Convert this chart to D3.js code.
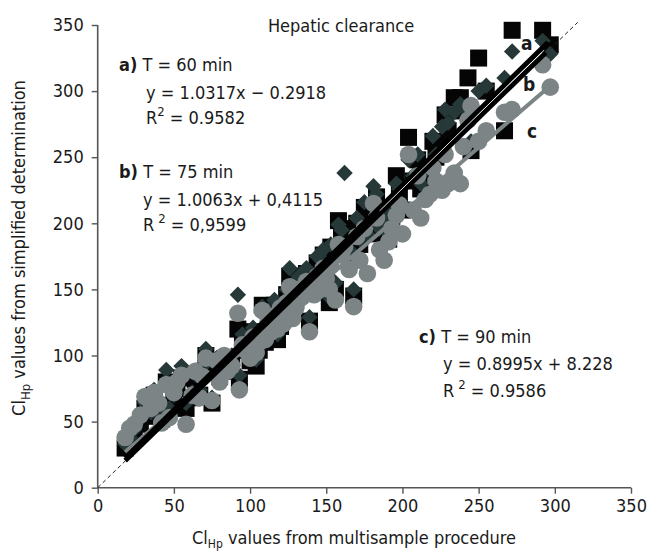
<!DOCTYPE html>
<html>
<head>
<meta charset="utf-8">
<script src="https://cdn.jsdelivr.net/npm/d3@7"></script>
<style>
  html, body { margin: 0; padding: 0; background: #fff; }
  svg text { font-family: "Liberation Sans Narrow", "Arial Narrow", "DejaVu Sans Condensed", sans-serif; font-stretch: condensed; fill: #1a1a1a; }
</style>
</head>
<body>
<svg id="chart" width="647" height="553"></svg>
<script>
// ---- data ----
const xTicks = [0, 50, 100, 150, 200, 250, 300, 350];
const yTicks = [0, 50, 100, 150, 200, 250, 300, 350];

// multisample clearance (shared x for each patient)
const clMulti = [18, 21, 31, 35, 40, 42, 45, 47, 55, 58, 62, 67, 71, 75, 80, 85, 88,
  92, 93, 97, 100, 104, 108, 110, 114, 118, 122, 126, 130, 134, 139, 142,
  146, 150, 153, 156, 158, 162, 165, 168, 172, 177, 181, 185, 188, 191, 196,
  200, 204, 207, 212, 218, 222, 226, 230, 234, 238, 243, 245, 250, 267, 272, 292, 297,
  24, 28, 37, 50, 52, 64, 69, 78, 83, 95, 102, 106, 112, 116, 120, 124, 128, 132,
  137, 144, 148, 152, 160, 170, 175, 183, 193, 198, 210, 215, 220, 228, 240, 255];
// a) T = 60 min (squares)
const clT60 = [30, 35, 60, 54, 62, 52, 80, 58, 83, 60, 68, 70, 100, 64, 84, 92, 98,
  120, 82, 104, 96, 92, 138, 110, 120, 112, 128, 160, 142, 150, 126, 155,
  148, 165, 182, 150, 202, 196, 176, 145, 184, 197, 205, 192, 199, 188, 236,
  210, 265, 232, 226, 240, 250, 260, 270, 295, 295, 310, 255, 325, 270, 346, 346, 335,
  40, 48, 70, 66, 75, 82, 88, 95, 88, 112, 118, 104, 130, 138, 122, 146, 150, 158,
  162, 170, 176, 140, 190, 200, 212, 220, 205, 222, 248, 236, 262, 282, 285, 300];
// b) T = 75 min (diamonds)
const clT75 = [33, 38, 64, 57, 66, 55, 89, 60, 92, 64, 72, 74, 105, 68, 88, 96, 100,
  146, 85, 108, 100, 97, 137, 114, 124, 116, 133, 166, 147, 154, 129, 160,
  152, 170, 184, 155, 199, 238, 180, 150, 188, 192, 228, 196, 205, 192, 230,
  214, 248, 236, 230, 244, 252, 273, 276, 284, 290, 280, 262, 300, 310, 330, 338, 328,
  44, 52, 74, 70, 78, 86, 92, 98, 92, 116, 121, 108, 134, 142, 126, 150, 154, 160,
  166, 175, 180, 144, 195, 204, 216, 222, 210, 226, 252, 240, 266, 286, 288, 304];
// c) T = 90 min (circles)
const clT90 = [38, 45, 69, 60, 64, 49, 78, 53, 85, 48, 70, 68, 98, 66, 80, 88, 92,
  132, 74, 104, 98, 102, 134, 112, 118, 120, 124, 152, 136, 144, 118, 146,
  150, 158, 168, 142, 184, 182, 165, 137, 172, 162, 215, 180, 172, 186, 206,
  192, 252, 210, 204, 222, 232, 225, 230, 238, 230, 278, 289, 262, 284, 286, 320, 303,
  48, 55, 72, 72, 80, 88, 84, 96, 100, 108, 114, 110, 126, 130, 136, 140, 128, 150,
  156, 160, 166, 150, 176, 190, 196, 204, 196, 214, 236, 218, 242, 252, 258, 270];

// fitted lines as drawn: [x1, y1, x2, y2]
const fitA = [18, 22.5, 295.6, 337];
const fitB = [18, 20.5, 294, 329];
const fitC = [18, 27, 298, 305];
const refLine = [0, 0, 315, 352];

const annA = ["a)", "T = 60 min", "y = 1.0317x \u2212 0.2918", "0.9582"];
const annB = ["b)", "T = 75 min", "y = 1.0063x + 0,4115", "0,9599"];
const annC = ["c)", "T = 90 min", "y = 0.8995x + 8.228", "0.9586"];

// ---- drawing ----
const svg = d3.select("#chart");
const x = d3.scaleLinear().domain([0, 350]).range([97.7, 631]);
const y = d3.scaleLinear().domain([0, 350]).range([487.7, 25]);

const axisColor = "#555";
const FS = 18;

// axes
const gx = svg.append("g").attr("transform", `translate(0,${y(0)})`)
  .call(d3.axisBottom(x).tickValues(xTicks).tickSize(6).tickPadding(6).tickFormat(d3.format("d")));
const gy = svg.append("g").attr("transform", `translate(${x(0)},0)`)
  .call(d3.axisLeft(y).tickValues(yTicks).tickSize(6).tickPadding(8).tickFormat(d3.format("d")));
[gx, gy].forEach(g => {
  g.select(".domain").attr("stroke", axisColor).attr("stroke-width", 1.6);
  g.selectAll(".tick line").attr("stroke", axisColor).attr("stroke-width", 1.4);
  g.selectAll(".tick text").attr("font-size", FS).attr("fill", "#1a1a1a")
    .style("font-family", '"Liberation Sans Narrow", "Arial Narrow", "DejaVu Sans Condensed", sans-serif');
});
gx.select(".domain").attr("d", `M${x(0)},0H${x(350)}`);
gy.select(".domain").attr("d", `M0,${y(0)}V${y(350)}`);

// markers
const pts = clMulti.map((v, i) => ({ x: v, a: clT60[i], b: clT75[i], c: clT90[i] }));
const sq = 17;
svg.append("g").selectAll("rect").data(pts).join("rect")
  .attr("x", d => x(d.x) - sq / 2).attr("y", d => y(d.a) - sq / 2)
  .attr("width", sq).attr("height", sq).attr("fill", "#050505");
const dsz = 8.2;
svg.append("g").selectAll("path").data(pts).join("path")
  .attr("d", d => `M${x(d.x)},${y(d.b) - dsz}L${x(d.x) + dsz},${y(d.b)}L${x(d.x)},${y(d.b) + dsz}L${x(d.x) - dsz},${y(d.b)}Z`)
  .attr("fill", "#263838");
svg.append("g").selectAll("circle").data(pts).join("circle")
  .attr("cx", d => x(d.x)).attr("cy", d => y(d.c)).attr("r", 8.8)
  .attr("fill", "#7c8486");

// dashed reference line
svg.append("line")
  .attr("x1", x(refLine[0])).attr("y1", y(refLine[1]))
  .attr("x2", x(refLine[2])).attr("y2", y(refLine[3]))
  .attr("stroke", "#222").attr("stroke-width", 1).attr("stroke-dasharray", "4,3");

// fit lines
function fit(f, color, w) {
  svg.append("line").attr("x1", x(f[0])).attr("y1", y(f[1])).attr("x2", x(f[2])).attr("y2", y(f[3]))
    .attr("stroke", color).attr("stroke-width", w);
}
fit(fitC, "#7c8486", 4);
fit(fitB, "#000", 5);
fit(fitA, "#000", 5);
// thin white separation between a and b where they diverge
const lerp = (f, xv) => f[1] + (f[3] - f[1]) * (xv - f[0]) / (f[2] - f[0]);
const sepX = [185, 293];
svg.append("line")
  .attr("x1", x(sepX[0])).attr("y1", y((lerp(fitA, sepX[0]) + lerp(fitB, sepX[0])) / 2))
  .attr("x2", x(sepX[1])).attr("y2", y((lerp(fitA, sepX[1]) + lerp(fitB, sepX[1])) / 2))
  .attr("stroke", "#fff").attr("stroke-width", 0.9);

// title
svg.append("text").attr("x", 341).attr("y", 32).attr("text-anchor", "middle")
  .attr("font-size", FS).text("Hepatic clearance");

// annotation blocks
function ann(a, x0, x1, y0, y1, y2, spaceR) {
  const t = svg.append("text").attr("x", x0).attr("y", y0).attr("font-size", FS);
  t.append("tspan").attr("font-weight", "bold").text(a[0]);
  t.append("tspan").text(" " + a[1]);
  svg.append("text").attr("x", x1).attr("y", y1).attr("font-size", FS).text(a[2]);
  const r = svg.append("text").attr("x", x1).attr("y", y2).attr("font-size", FS);
  r.append("tspan").text("R");
  r.append("tspan").attr("dx", spaceR).attr("dy", -8).attr("font-size", 13).text("2");
  r.append("tspan").attr("dy", 8).text(" = " + a[3]);
}
ann(annA, 119, 146, 71, 99, 124, 0);
ann(annB, 119, 143, 178, 206, 231, 4);
ann(annC, 419, 443, 343, 370, 397, 4);

// series labels
[["a", 521, 50], ["b", 523, 91], ["c", 527, 138]].forEach(l => {
  svg.append("text").attr("x", l[1]).attr("y", l[2]).attr("font-size", 19)
    .attr("font-weight", "bold").text(l[0]);
});

// axis titles
const xt = svg.append("text").attr("x", 354).attr("y", 544).attr("text-anchor", "middle").attr("font-size", FS);
xt.append("tspan").text("Cl");
xt.append("tspan").attr("dy", 4).attr("font-size", 12).text("Hp");
xt.append("tspan").attr("dy", -4).text("  values from multisample procedure");

const yt = svg.append("text").attr("transform", "translate(25,248) rotate(-90)")
  .attr("text-anchor", "middle").attr("font-size", FS);
yt.append("tspan").text("Cl");
yt.append("tspan").attr("dy", 5).attr("font-size", 13).text("Hp");
yt.append("tspan").attr("dy", -5).text(" values from simplified determination");
</script>
</body>
</html>
